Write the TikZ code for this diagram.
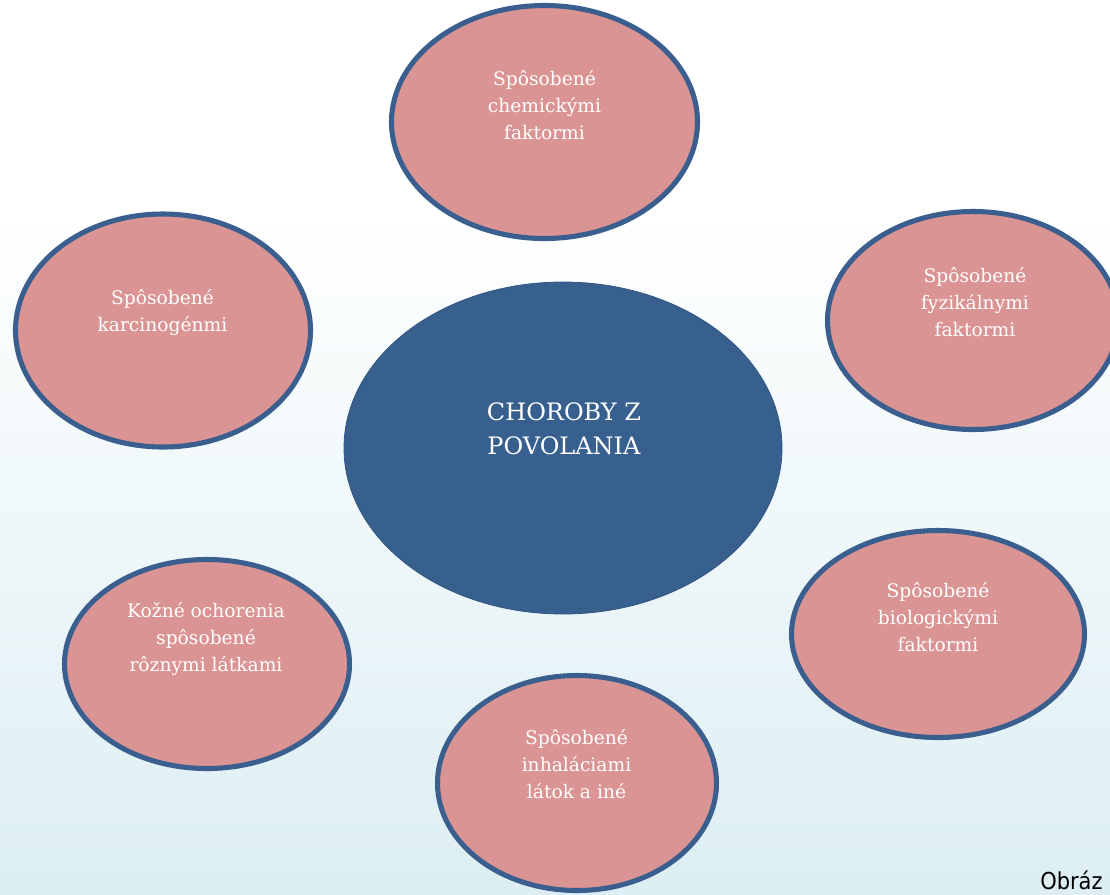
\documentclass[tikz,border=0pt]{standalone}
\usepackage{fontspec}
\setmainfont{DejaVu Serif}
\setsansfont{DejaVu Sans}
\usetikzlibrary{shapes.geometric}
\definecolor{bgblue}{RGB}{220,238,243}
\definecolor{ringblue}{RGB}{58,95,142}
\definecolor{coreblue}{RGB}{56,96,143}
\definecolor{rose}{RGB}{217,148,147}
\tikzset{
  ell/.style 2 args={ellipse, inner sep=0pt, minimum width=#1*0.75pt, minimum height=#2*0.75pt},
  petal/.style={draw=ringblue, line width=3.8pt, fill=rose},
  core/.style={draw=coreblue!90!black, line width=0.6pt, fill=coreblue},
  lbl/.style={text=white, align=center, font=\fontsize{14}{20.2}\selectfont, inner sep=0pt},
  corelbl/.style={text=white, align=center, font=\fontsize{18}{25.5}\selectfont, inner sep=0pt},
}
\begin{document}
\begin{tikzpicture}[x=0.75pt,y=-0.75pt]
\useasboundingbox (0,0) rectangle (1110,894);
\clip (0,0) rectangle (1110,894);
\fill[white] (0,0) rectangle (1110,210);
\shade[top color=white, bottom color=bgblue] (0,209) rectangle (1110,894);
% petals
\node[petal, ell={306}{233}] (chem) at (544.5,122) {};
\node[petal, ell={295}{233}] (karc) at (163,330.5) {};
\node[petal, ell={291}{218}] (fyz) at (973,320.5) {};
\node[petal, ell={293}{207}] (bio) at (938,634) {};
\node[petal, ell={279}{215}] (inh) at (577,783) {};
\node[petal, ell={285}{209}] (koz) at (207,664) {};
% core
\node[core, ell={438}{332}] (main) at (563,448) {};
% labels
\node[corelbl] (maint) at (564,429) {CHOROBY Z\\POVOLANIA};
\node[lbl] (chemt) at (544.5,105) {Spôsobené\\chemickými\\faktormi};
\node[lbl] (karct) at (162.5,313) {Spôsobené\\karcinogénmi};
\node[lbl] (fyzt) at (975,302) {Spôsobené\\fyzikálnymi\\faktormi};
\node[lbl] (biot) at (938,617) {Spôsobené\\biologickými\\faktormi};
\node[lbl] (inht) at (576.5,764) {Spôsobené\\inhaláciami\\látok a iné};
\node[lbl] (kozt) at (206,639) {Kožné ochorenia\\spôsobené\\rôznymi látkami};
\node[anchor=base west, inner sep=0pt, font=\sffamily\fontsize{17.5}{20}\selectfont, xscale=0.9, transform shape] (cap) at (1040,889) {Obráz};
\end{tikzpicture}
\end{document}
